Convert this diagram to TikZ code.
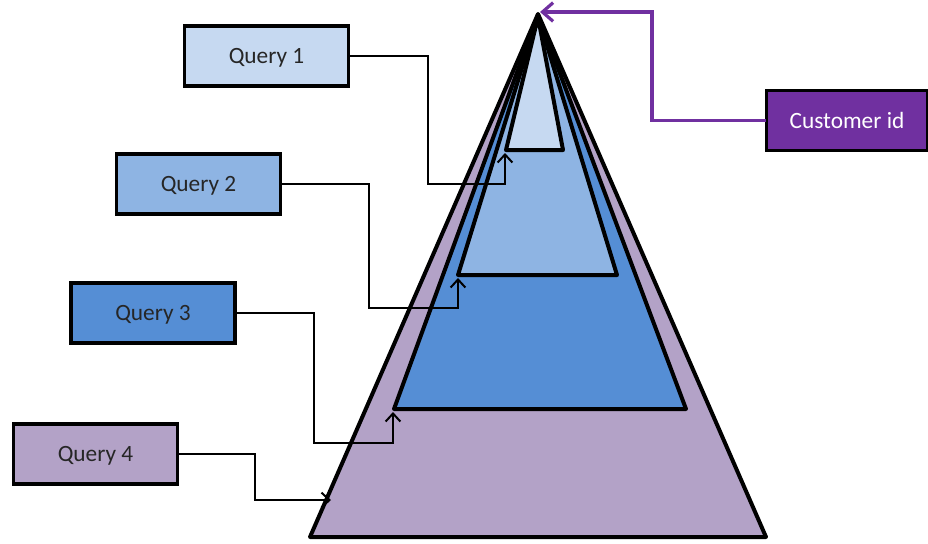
\documentclass[tikz,border=0pt]{standalone}
\usepackage{fontspec}
\setmainfont{Carlito}
\usetikzlibrary{arrows.meta}

\definecolor{lvlA}{HTML}{C6D9F1}
\definecolor{lvlB}{HTML}{8EB4E3}
\definecolor{lvlC}{HTML}{558ED5}
\definecolor{lvlD}{HTML}{B3A2C7}
\definecolor{cust}{HTML}{7030A0}

\tikzset{
  qbox/.style={draw=black, line width=2.3pt, minimum width=123pt, minimum height=45pt,
    inner sep=0pt, outer sep=0pt, text depth=0pt, font=\fontsize{17.5}{20}\selectfont, text=black!85},
  tri/.style={draw=black, line width=3pt, line join=round},
  conn/.style={draw=black, line width=1.5pt, -{Straight Barb[length=6pt,width=11pt,line width=1.5pt]}},
  cconn/.style={draw=cust, line width=2.4pt, -{Straight Barb[length=8pt,width=14pt,line width=2.4pt]}}
}

\begin{document}
\begin{tikzpicture}[x=0.75pt, y=-0.75pt]
  \path[use as bounding box] (0,0) rectangle (928,543);

  % nested pyramid levels, largest first
  \filldraw[tri, fill=lvlD] (538,14) -- (766,537) -- (310,537) -- cycle;
  \filldraw[tri, fill=lvlC] (538,15) -- (686,409) -- (394,409) -- cycle;
  \filldraw[tri, fill=lvlB] (538,16) -- (617,275) -- (458,275) -- cycle;
  \filldraw[tri, fill=lvlA] (538,17) -- (563,150) -- (506,150) -- cycle;

  % arrow targets on the pyramid
  \coordinate (a1) at (505,153);
  \coordinate (a2) at (458,278);
  \coordinate (a3) at (393,412);
  \coordinate (a4) at (331,500);
  \coordinate (a0) at (540,12);

  % query boxes
  \node[qbox, fill=lvlA] (q1) at (266.5,56)  {Query 1};
  \node[qbox, fill=lvlB] (q2) at (198.5,184) {Query 2};
  \node[qbox, fill=lvlC] (q3) at (153,313)   {Query 3};
  \node[qbox, fill=lvlD] (q4) at (95.5,454)  {Query 4};

  % customer id box
  \node[qbox, fill=cust, text=white, minimum width=121pt] (cid) at (847,120.5) {Customer id};

  % connectors
  \draw[conn] (q1.east) -| (428,184) -| (a1);
  \draw[conn] (q2.east) -| (369,308) -| (a2);
  \draw[conn] (q3.east) -| (314,443) -| (a3);
  \draw[conn] (q4.east) -| (255,500) -- (a4);
  \draw[cconn] (cid.west) -| (652,12) -- (a0);
\end{tikzpicture}
\end{document}
